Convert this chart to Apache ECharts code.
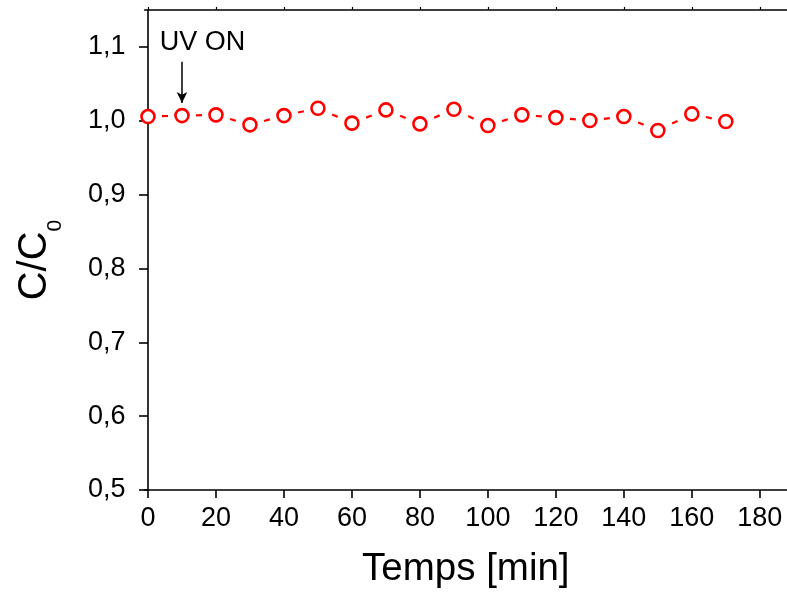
<!DOCTYPE html>
<html><head><meta charset="utf-8">
<script src="https://cdn.jsdelivr.net/npm/echarts@6/dist/echarts.min.js"></script>
<style>html,body{margin:0;padding:0;background:#fff}#c{width:787px;height:594px}</style>
</head><body><div id="c"></div>
<script>
// ---- data ----
const timeMin = [0,10,20,30,40,50,60,70,80,90,100,110,120,130,140,150,160,170];
const ratio = [1.0057,1.0070,1.0080,0.9945,1.0070,1.0170,0.9968,1.0147,0.9958,1.0156,0.9935,1.0080,1.0043,1.0003,1.0057,0.9868,1.0093,0.9990];
const xTicks = [0,20,40,60,80,100,120,140,160,180];
const yTicks = [0.5,0.6,0.7,0.8,0.9,1.0,1.1];
// annotation (data space)
const uvOnTime = 10;
const arrowFrom = 1.080;
const arrowTo = 1.024;
const uvLabelX = 16;
const uvLabelY = 1.1055;

const FONT = "'Liberation Sans', Arial, sans-serif";
const pts = timeMin.map((t,i)=>[t, ratio[i]]);
const gaps = timeMin.slice(0,-1).map((t,i)=>[t, ratio[i], timeMin[i+1], ratio[i+1]]);

const chart = echarts.init(document.getElementById('c'), null, {renderer:'canvas'});
const axisLine = {show:true, lineStyle:{color:'#000', width:1.6}};
chart.setOption({
  backgroundColor:'#fff',
  animation:false,
  grid:{left:144.6, top:10, width:647.9, height:481.7, containLabel:false},
  xAxis:[{
    type:'value', min:-1, max:188, position:'bottom',
    axisLine: axisLine,
    axisTick:{show:true, inside:false, length:8, lineStyle:{color:'#000', width:1.6}, customValues:xTicks},
    axisLabel:{show:true, margin:15, color:'#000', fontSize:27, fontFamily:FONT, customValues:xTicks},
    splitLine:{show:false},
    name:'Temps [min]', nameLocation:'middle', nameGap:60,
    nameTextStyle:{fontSize:38.5, color:'#000', fontFamily:FONT}
  },{
    type:'value', min:-1, max:188, position:'top',
    axisLine: axisLine,
    axisTick:{show:true, inside:false, length:3, lineStyle:{color:'#000', width:1.2}, customValues:xTicks},
    axisLabel:{show:false},
    splitLine:{show:false}
  }],
  yAxis:{
    type:'value', min:0.5, max:1.15,
    axisLine: axisLine,
    axisTick:{show:true, inside:false, length:9, lineStyle:{color:'#000', width:1.6}, customValues:yTicks},
    axisLabel:{show:true, margin:19, color:'#000', fontSize:27, fontFamily:FONT, customValues:yTicks,
      formatter:v=>v.toFixed(1).replace('.', ',')},
    splitLine:{show:false},
    name:'{a|C/C}{b|0}', nameLocation:'middle', nameGap:90, nameRotate:90,
    nameTextStyle:{
      color:'#000', fontFamily:FONT, padding:[0,20,0,0],
      rich:{
        a:{fontSize:40, lineHeight:40, verticalAlign:'top', fontFamily:FONT, color:'#000'},
        b:{fontSize:21, lineHeight:21, verticalAlign:'top', padding:[30,0,0,0], fontFamily:FONT, color:'#000'}
      }
    }
  },
  series:[{
    type:'custom',
    xAxisIndex:0,
    data:gaps,
    encode:{x:[0,2], y:[1,3]},
    z:2,
    renderItem:(params, api)=>{
      const p1 = api.coord([api.value(0), api.value(1)]);
      const p2 = api.coord([api.value(2), api.value(3)]);
      const mx=(p1[0]+p2[0])/2, my=(p1[1]+p2[1])/2;
      const dx=p2[0]-p1[0], dy=p2[1]-p1[1];
      const L=Math.hypot(dx,dy), h=3;
      return {type:'line', shape:{x1:mx-dx/L*h, y1:my-dy/L*h, x2:mx+dx/L*h, y2:my+dy/L*h},
        style:{stroke:'#ff0000', lineWidth:2.2}};
    }
  },{
    type:'scatter',
    xAxisIndex:0,
    data:pts,
    symbol:'circle', symbolSize:13,
    itemStyle:{color:'#fff', borderColor:'#ff0000', borderWidth:2.6, opacity:1},
    z:3,
    markLine:{
      silent:true, symbol:['none','arrow'], symbolSize:[8,11],
      lineStyle:{color:'#000', width:1.5, type:'solid'},
      label:{show:false},
      data:[[{coord:[uvOnTime, arrowFrom]},{coord:[uvOnTime, arrowTo]}]]
    },
    markPoint:{
      silent:true, symbol:'circle', symbolSize:0,
      label:{show:true, position:'inside', formatter:'UV ON', fontSize:27, color:'#000', fontFamily:FONT},
      itemStyle:{color:'transparent'},
      data:[{coord:[uvLabelX, uvLabelY]}]
    }
  }]
});
</script></body></html>
